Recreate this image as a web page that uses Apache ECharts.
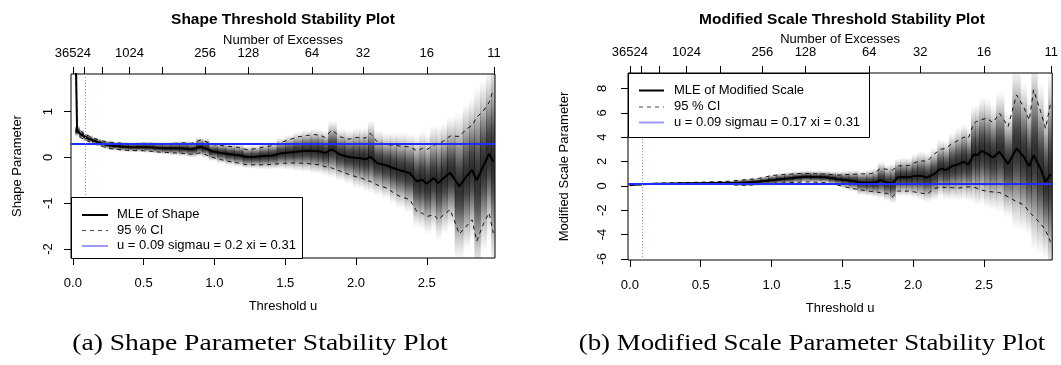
<!DOCTYPE html>
<html>
<head>
<meta charset="utf-8">
<script src="https://cdn.jsdelivr.net/npm/echarts@6/dist/echarts.min.js"></script>
<style>
html,body{margin:0;padding:0;background:#fff;}
#c{width:1061px;height:365px;}
</style>
</head>
<body>
<div id="c"></div>
<script>
// ---------------- data ----------------
// Shape parameter stability (left panel)
const shapeU   = [0.00,0.03,0.06,0.09,0.12,0.15,0.18,0.21,0.24,0.27,0.30,0.36,0.42,0.48,0.54,0.60,0.66,0.72,0.78,0.84,0.90,0.93,0.99,1.05,1.11,1.17,1.23,1.29,1.35,1.41,1.47,1.53,1.59,1.65,1.71,1.75,1.78,1.83,1.89,1.95,2.01,2.04,2.07,2.10,2.15,2.22,2.26,2.31,2.38,2.43,2.47,2.50,2.55,2.58,2.62,2.665,2.73,2.78,2.82,2.853,2.90,2.94,2.97];
const shapeMle = [6.00,0.58,0.50,0.44,0.40,0.365,0.33,0.30,0.28,0.26,0.25,0.235,0.225,0.23,0.225,0.21,0.20,0.20,0.195,0.18,0.23,0.205,0.13,0.10,0.07,0.05,0.01,0.015,0.03,0.045,0.09,0.11,0.13,0.145,0.14,0.13,0.095,0.18,0.06,0.01,-0.01,-0.02,-0.04,0.02,-0.12,-0.18,-0.23,-0.28,-0.34,-0.52,-0.49,-0.575,-0.45,-0.56,-0.45,-0.33,-0.63,-0.42,-0.27,-0.50,-0.18,0.08,-0.09];
const shapeLo  = [5.50,0.50,0.43,0.38,0.34,0.31,0.27,0.24,0.21,0.19,0.18,0.16,0.15,0.15,0.14,0.12,0.11,0.10,0.09,0.07,0.10,0.07,0.00,-0.05,-0.09,-0.12,-0.16,-0.16,-0.16,-0.15,-0.13,-0.12,-0.12,-0.13,-0.15,-0.16,-0.20,-0.23,-0.30,-0.37,-0.43,-0.45,-0.50,-0.52,-0.60,-0.67,-0.76,-0.85,-0.92,-1.18,-1.22,-1.29,-1.25,-1.36,-1.25,-1.14,-1.67,-1.50,-1.36,-1.83,-1.45,-1.21,-1.65];
const shapeHi  = [6.50,0.66,0.57,0.50,0.46,0.42,0.39,0.36,0.345,0.33,0.32,0.31,0.30,0.31,0.31,0.30,0.30,0.31,0.32,0.31,0.38,0.36,0.28,0.26,0.24,0.22,0.17,0.19,0.23,0.26,0.33,0.39,0.45,0.48,0.50,0.48,0.44,0.60,0.45,0.40,0.44,0.42,0.43,0.53,0.34,0.28,0.27,0.25,0.23,0.15,0.20,0.17,0.27,0.29,0.36,0.47,0.46,0.62,0.70,0.88,1.02,1.20,1.48];

// Modified scale stability (right panel)
const scaleU   = [0.00,0.03,0.06,0.12,0.20,0.30,0.40,0.50,0.60,0.70,0.77,0.83,0.89,0.95,1.00,1.06,1.12,1.18,1.24,1.31,1.38,1.43,1.47,1.52,1.57,1.64,1.70,1.73,1.77,1.82,1.855,1.89,1.93,1.97,2.01,2.05,2.10,2.147,2.194,2.23,2.276,2.323,2.36,2.39,2.427,2.45,2.486,2.52,2.563,2.61,2.67,2.73,2.78,2.82,2.85,2.90,2.935,2.97];
const scaleMle = [0.05,0.10,0.12,0.15,0.17,0.19,0.21,0.22,0.24,0.24,0.25,0.28,0.33,0.40,0.47,0.55,0.61,0.68,0.74,0.72,0.70,0.62,0.55,0.48,0.41,0.25,0.25,0.26,0.47,0.25,0.20,0.69,0.72,0.70,0.80,0.82,0.69,0.96,1.43,1.30,1.62,1.79,1.98,1.75,2.60,2.50,2.88,2.65,2.34,2.80,1.79,3.08,2.39,1.62,2.53,1.40,0.33,0.96];
const scaleLo  = [0.02,0.06,0.08,0.11,0.12,0.13,0.14,0.14,0.14,0.12,0.05,0.05,0.10,0.16,0.20,0.22,0.25,0.30,0.33,0.30,0.25,0.15,0.05,-0.08,-0.22,-0.35,-0.45,-0.49,-0.55,-0.63,-0.90,-0.41,-0.45,-0.42,-0.50,-0.58,-0.68,-0.22,-0.10,-0.13,-0.15,-0.18,-0.12,-0.08,-0.10,-0.20,-0.35,-0.45,-0.50,-0.55,-0.90,-1.30,-1.55,-2.14,-2.50,-3.10,-3.65,-4.60];
const scaleHi  = [0.08,0.14,0.16,0.19,0.22,0.25,0.28,0.30,0.34,0.38,0.45,0.52,0.58,0.70,0.85,0.90,0.95,1.00,1.02,1.00,0.96,0.92,0.88,0.92,0.95,0.98,1.00,1.10,1.43,1.35,1.30,1.62,1.66,1.68,1.90,2.06,2.02,2.60,3.00,3.08,3.49,3.76,4.00,3.90,5.13,5.30,5.45,5.55,5.20,5.96,4.86,7.47,6.50,5.40,7.88,6.10,4.72,6.78];

// axes / reference values
const thresholdTicks = [0, 0.5, 1, 1.5, 2, 2.5];
const excessTickU    = [0, 0.082, 0.207, 0.40, 0.635, 0.935, 1.24, 1.69, 2.05, 2.50, 2.975];
const excessLabels   = ['36524','4096','2048','1024','512','256','128','64','32','16','11'];
const excessShown    = [1,0,0,1,0,1,1,1,1,1,1];
const shapeYTicks    = [-2, -1, 0, 1];
const scaleYTicks    = [-6, -4, -2, 0, 2, 4, 6, 8];
const tryThresh = 0.09;
const shapeRef  = 0.31;
const scaleRef  = 0.17;
const legendShape = ['MLE of Shape', '95 % CI', 'u = 0.09 sigmau = 0.2 xi = 0.31'];
const legendScale = ['MLE of Modified Scale', '95 % CI', 'u = 0.09 sigmau = 0.17 xi = 0.31'];
const captions = ['(a) Shape Parameter Stability Plot', '(b) Modified Scale Parameter Stability Plot'];

// ---------------- chart ----------------
const FONT = '"Liberation Sans", Arial, Helvetica, sans-serif';
const SERIF = '"Liberation Serif", "DejaVu Serif", serif';
const X_MIN = -0.013, X_MAX = 2.982;

const chart = echarts.init(document.getElementById('c'), null, {renderer: 'canvas'});

function pairs(xs, ys){ return xs.map((x,i)=>[x, ys[i]]); }

function shadeData(us, m, lo, hi){
  return us.map((u,i)=>{
    const l = i>0 ? (us[i-1]+u)/2 : u - (us[1]-us[0])/2;
    const r = i<us.length-1 ? (u+us[i+1])/2 : u + (u-us[i-1])/2;
    return [u, m[i], lo[i], hi[i], l, r];
  });
}

const K = 3.0;
const shadeStops = (function(){
  const s = [], base = Math.exp(-K*K/4.2);
  for (let k=0;k<=24;k++){
    const t = k/24, z = (t-0.5)*2*K;
    let a = (Math.exp(-z*z/4.2)-base)/(1-base);
    a = Math.max(0, a)*0.82;
    s.push({offset:t, color:'rgba(0,0,0,'+a.toFixed(3)+')'});
  }
  return s;
})();

function renderShade(params, api){
  const m = api.value(1), sd = (api.value(3)-api.value(2))/3.92;
  const x0 = api.coord([api.value(4), 0])[0];
  const x1 = api.coord([api.value(5), 0])[0];
  const yT = api.coord([0, m + K*sd])[1];
  const yB = api.coord([0, m - K*sd])[1];
  const cs = params.coordSys;
  const rect = echarts.graphic.clipRectByRect(
    {x:x0, y:yT, width:(x1-x0)+0.6, height:yB-yT},
    {x:cs.x, y:cs.y, width:cs.width, height:cs.height});
  if (!rect) return null;
  return {
    type:'rect', shape: rect,
    style: { fill: new echarts.graphic.LinearGradient(x0, yT, x0, yB, shadeStops, true) }
  };
}

function bottomAxis(g){
  return {
    type:'value', gridIndex:g, position:'bottom', min:X_MIN, max:X_MAX,
    name:'Threshold u', nameLocation:'middle', nameGap:42, nameMoveOverlap:false,
    nameTextStyle:{fontSize:13, color:'#000', fontFamily:FONT},
    axisLine:{show:false, onZero:false},
    axisTick:{show:true, length:7, inside:false, customValues:thresholdTicks, lineStyle:{color:'#000'}},
    axisLabel:{customValues:thresholdTicks, margin:19, fontSize:13, color:'#000', fontFamily:FONT,
               formatter:v=>v.toFixed(1)},
    splitLine:{show:false}
  };
}
function topAxis(g){
  const shownVals = excessTickU.filter((u,i)=>excessShown[i]);
  return {
    type:'value', gridIndex:g, position:'top', min:X_MIN, max:X_MAX,
    name:'Number of Excesses', nameLocation:'middle', nameGap:27, nameMoveOverlap:false,
    nameTextStyle:{fontSize:13, color:'#000', fontFamily:FONT},
    axisLine:{show:false, onZero:false},
    axisTick:{show:true, length:7, inside:false, customValues:excessTickU, lineStyle:{color:'#000'}},
    axisLabel:{customValues:shownVals, margin:14, fontSize:13, color:'#000', fontFamily:FONT, hideOverlap:false,
      formatter:function(v){
        for (let i=0;i<excessTickU.length;i++){ if (Math.abs(excessTickU[i]-v)<1e-9) return excessLabels[i]; }
        return '';
      }},
    splitLine:{show:false}
  };
}
function leftAxis(g, mn, mx, ticks, name, labelMargin, nameGap){
  return {
    type:'value', gridIndex:g, position:'left', min:mn, max:mx,
    name:name, nameLocation:'middle', nameGap:nameGap, nameMoveOverlap:false,
    nameTextStyle:{fontSize:13, color:'#000', fontFamily:FONT},
    axisLine:{show:false, onZero:false},
    axisTick:{show:true, length:7, inside:false, customValues:ticks, lineStyle:{color:'#000'}},
    axisLabel:{customValues:ticks, rotate:90, margin:labelMargin, fontSize:13, color:'#000', fontFamily:FONT,
               formatter:v=>String(v)},
    splitLine:{show:false}
  };
}

function panelSeries(xi, yi, us, m, lo, hi, ref, mleName){
  return [
    { type:'custom', xAxisIndex:xi, yAxisIndex:yi, renderItem:renderShade,
      data: shadeData(us, m, lo, hi), z:1, silent:true, animation:false },
    { type:'line', name:'95 % CI', xAxisIndex:xi, yAxisIndex:yi, data:pairs(us, lo), showSymbol:false, symbol:'none',
      lineStyle:{color:'#111', width:1, type:[4,4]}, z:3, silent:true, clip:true },
    { type:'line', name:'95 % CI', xAxisIndex:xi, yAxisIndex:yi, data:pairs(us, hi), showSymbol:false, symbol:'none',
      lineStyle:{color:'#111', width:1, type:[4,4]}, z:3, silent:true, clip:true },
    { type:'line', name:mleName, xAxisIndex:xi, yAxisIndex:yi, data:pairs(us, m), showSymbol:false, symbol:'none',
      lineStyle:{color:'#000', width:2}, z:4, silent:true, clip:true,
      markLine:{ silent:true, symbol:'none', label:{show:false}, animation:false,
        data:[ {yAxis:ref, lineStyle:{color:'#1f2fff', width:2, type:'solid'}},
               {xAxis:tryThresh, lineStyle:{color:'#8f8fff', width:1, type:[1,2]}} ] } }
  ];
}

function legendBox(x, y, w, h, rows, lineX0, lineX1, textX, rowY){
  const els = [{type:'rect', shape:{x:x+0.5, y:y+0.5, width:w, height:h},
                style:{fill:'#fff', stroke:'#000', lineWidth:1}, z:100}];
  const styles = [
    {stroke:'#000', lineWidth:2},
    {stroke:'#444', lineWidth:1, lineDash:[4,4]},
    {stroke:'#9a9aff', lineWidth:2}
  ];
  rows.forEach((t,i)=>{
    els.push({type:'line', shape:{x1:lineX0, y1:rowY[i]+0.5, x2:lineX1, y2:rowY[i]+0.5}, style:styles[i], z:101});
    els.push({type:'text', x:textX, y:rowY[i], z:101,
      style:{text:t, fontSize:13, fontFamily:FONT, fill:'#000', align:'left', verticalAlign:'middle'}});
  });
  return els;
}

const option = {
  backgroundColor:'#fff',
  animation:false,
  grid:[
    {left:71, top:74, width:424, height:184, show:true, borderColor:'#000', borderWidth:1, backgroundColor:'transparent', containLabel:false},
    {left:628, top:73, width:428, height:187, show:true, borderColor:'#000', borderWidth:1, backgroundColor:'transparent', containLabel:false}
  ],
  xAxis:[ bottomAxis(0), topAxis(0), bottomAxis(1), topAxis(1) ],
  yAxis:[
    leftAxis(0, -2.196, 1.824, shapeYTicks, 'Shape Parameter', 16, 47),
    leftAxis(1, -6.09, 9.27, scaleYTicks, 'Modified Scale Parameter', 19, 57)
  ],
  series: [].concat(
    panelSeries(0, 0, shapeU, shapeMle, shapeLo, shapeHi, shapeRef, legendShape[0]),
    panelSeries(2, 1, scaleU, scaleMle, scaleLo, scaleHi, scaleRef, legendScale[0])
  ),
  graphic:[].concat(
    [
      {type:'text', x:283, y:20, style:{text:'Shape Threshold Stability Plot', fontSize:15.5, fontWeight:'bold', fontFamily:FONT, fill:'#000', align:'center', verticalAlign:'middle'}},
      {type:'text', x:842, y:20, style:{text:'Modified Scale Threshold Stability Plot', fontSize:15.5, fontWeight:'bold', fontFamily:FONT, fill:'#000', align:'center', verticalAlign:'middle'}},
      {type:'text', x:260, y:344, scaleX:1.15, style:{text:captions[0], fontSize:24, fontFamily:SERIF, fill:'#000', align:'center', verticalAlign:'middle'}},
      {type:'text', x:812, y:344, scaleX:1.12, style:{text:captions[1], fontSize:24, fontFamily:SERIF, fill:'#000', align:'center', verticalAlign:'middle'}}
    ],
    legendBox(71, 197, 231, 61, legendShape, 82, 108, 117, [214.5, 230, 245.5]),
    legendBox(628, 73, 241, 64, legendScale, 639, 664, 674, [90, 106.5, 122])
  )
};
chart.setOption(option);
</script>
</body>
</html>
